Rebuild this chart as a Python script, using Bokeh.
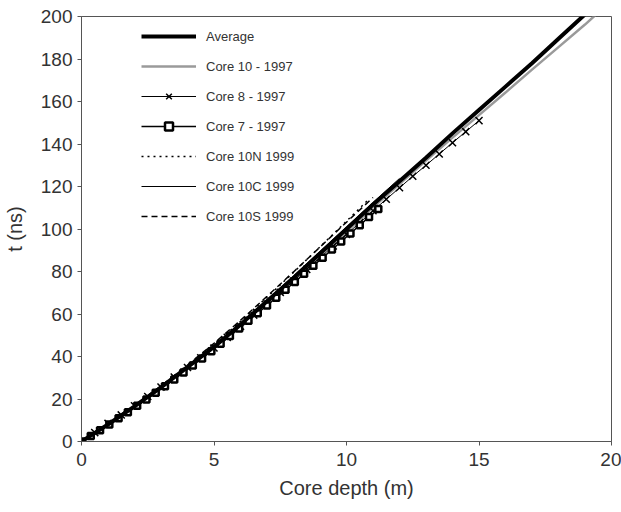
from bokeh.plotting import figure
from bokeh.models import Legend, LegendItem, FixedTicker
from bokeh.embed import file_html
from bokeh.resources import INLINE

# ---- data ----
avg_d = [0, 1, 2, 3, 4, 5, 6, 7, 8, 9, 10, 11, 12, 13, 14, 15, 16, 17, 18, 19, 19.3]
avg_t = [0, 8, 16.5, 25.5, 35, 44.5, 55, 66, 77, 88.5, 100, 111.5, 122.5, 133.5, 145, 156, 167, 178, 189.5, 201, 204.5]

c10_d = [0, 1, 2, 3, 4, 5, 6, 7, 8, 9, 10, 11, 12, 13, 14, 15, 16, 17, 18, 19, 19.6]
c10_t = [0, 7.8, 16.2, 25.2, 34.6, 44.2, 54.6, 65.4, 76.4, 87.6, 98.8, 110.2, 121.2, 132.2, 143.0, 153.6, 164.2, 175.0, 185.6, 196.2, 203.0]

c8_d = [0, 0.5, 1, 1.5, 2, 2.5, 3, 3.5, 4, 4.5, 5, 5.5, 6, 6.5, 7, 7.5, 8, 8.5, 9, 9.5,
        10, 10.5, 11, 11.5, 12, 12.5, 13, 13.5, 14, 14.5, 15]
c8_t = [0, 4.2, 8.5, 12.5, 16.8, 21.2, 25.6, 30.3, 34.8, 39.4, 44.0, 49.0, 54.2, 59.5, 64.8, 70.2,
        75.5, 81.0, 86.5, 92.0, 97.5, 103.0, 108.6, 114.0, 119.4, 124.8, 130.0, 135.3, 140.6, 145.8, 151.0]

c7_d = [0, 0.35, 0.7, 1.05, 1.4, 1.75, 2.1, 2.45, 2.8, 3.15, 3.5, 3.85, 4.2, 4.55, 4.9, 5.25, 5.6,
        5.95, 6.3, 6.65, 7.0, 7.35, 7.7, 8.05, 8.4, 8.75, 9.1, 9.45, 9.8, 10.15, 10.5, 10.85, 11.2]
c7_t = [0, 2.6, 5.3, 8.0, 10.9, 13.8, 16.8, 19.8, 22.9, 26.0, 29.2, 32.5, 35.8, 39.1, 42.5, 46.0, 49.6,
        53.2, 56.8, 60.4, 64.0, 67.7, 71.4, 75.1, 78.9, 82.7, 86.5, 90.3, 94.1, 97.9, 101.8, 105.6, 109.4]

n10_d = [0, 0.5, 1, 1.5, 2, 2.5, 3, 3.5, 4, 4.5, 5, 5.5, 6, 6.5, 7, 7.5, 8, 8.5, 9, 9.5, 10, 10.5, 10.8]
n10_t = [0, 4.1, 8.2, 12.4, 16.8, 21.4, 26.0, 30.8, 35.7, 40.7, 45.6, 51.0, 56.5, 62.2, 67.9, 73.7,
         79.6, 85.6, 91.6, 97.6, 103.7, 109.8, 113.5]

c10c_d = [0, 1, 2, 3, 4, 5, 6, 7, 8, 9, 10, 11, 12]
c10c_t = [0, 8.1, 16.6, 25.8, 35.4, 45.2, 55.8, 66.8, 78.0, 89.5, 101.0, 112.5, 123.8]

s10_d = [0, 1, 2, 3, 4, 5, 6, 7, 8, 9, 10, 11]
s10_t = [0, 8.2, 16.8, 26.2, 36.0, 46.2, 57.0, 68.3, 79.8, 91.5, 103.2, 114.8]

x_ticks = [0, 5, 10, 15, 20]
y_ticks = [0, 20, 40, 60, 80, 100, 120, 140, 160, 180, 200]

FONT = "Liberation Sans"
TXT = "#333333"

p = figure(width=621, height=512, x_range=(0, 20), y_range=(0, 200),
           output_backend="svg", toolbar_location=None,
           min_border_left=80, min_border_right=10, min_border_top=16, min_border_bottom=71)

p.xgrid.visible = False
p.ygrid.visible = False
p.outline_line_color = "#555555"
p.outline_line_width = 1
p.background_fill_color = "white"
p.border_fill_color = "white"

for ax in (p.xaxis[0], p.yaxis[0]):
    ax.axis_line_color = "#555555"
    ax.major_tick_line_color = "#555555"
    ax.major_tick_out = 4
    ax.major_tick_in = 0
    ax.minor_tick_line_color = None
    ax.major_label_text_font = FONT
    ax.major_label_text_font_size = "19px"
    ax.major_label_text_color = TXT
    ax.axis_label_text_font = FONT
    ax.axis_label_text_font_size = "20px"
    ax.axis_label_text_font_style = "normal"
    ax.axis_label_text_color = TXT

p.xaxis.ticker = FixedTicker(ticks=x_ticks)
p.yaxis.ticker = FixedTicker(ticks=y_ticks)
p.xaxis.axis_label = "Core depth (m)"
p.yaxis.axis_label = "t (ns)"
p.xaxis.major_label_standoff = 7
p.xaxis.axis_label_standoff = 8
p.yaxis.major_label_standoff = 5
p.yaxis.axis_label_standoff = 12

# ---- series ----
r_c10 = p.line(c10_d, c10_t, line_color="#9a9a9a", line_width=2.5)
r_c8l = p.line(c8_d, c8_t, line_color="black", line_width=1)
r_c8m = p.scatter(c8_d, c8_t, marker="x", size=10, line_color="black", line_width=1.5)
r_c7l = p.line(c7_d, c7_t, line_color="black", line_width=1.5)
r_c7m = p.scatter(c7_d, c7_t, marker="square", size=6, line_color="black", line_width=2.5, fill_color="white")
r_n10 = p.line(n10_d, n10_t, line_color="black", line_width=1.5, line_dash="2 4")
r_c10c = p.line(c10c_d, c10c_t, line_color="black", line_width=1)
r_s10 = p.line(s10_d, s10_t, line_color="black", line_width=1.5, line_dash="6 4")
r_avg = p.line(avg_d, avg_t, line_color="black", line_width=4)

legend = Legend(items=[
    LegendItem(label="Average", renderers=[r_avg]),
    LegendItem(label="Core 10 - 1997", renderers=[r_c10]),
    LegendItem(label="Core 8 - 1997", renderers=[r_c8l, r_c8m]),
    LegendItem(label="Core 7 - 1997", renderers=[r_c7l, r_c7m]),
    LegendItem(label="Core 10N 1999", renderers=[r_n10]),
    LegendItem(label="Core 10C 1999", renderers=[r_c10c]),
    LegendItem(label="Core 10S 1999", renderers=[r_s10]),
], location=(60, 215))
legend.border_line_color = None
legend.background_fill_alpha = 0
legend.padding = 0
legend.margin = 0
legend.spacing = 10
legend.glyph_width = 55
legend.glyph_height = 20
legend.label_height = 20
legend.label_standoff = 10
legend.label_text_font = FONT
legend.label_text_font_size = "13px"
legend.label_text_color = TXT
p.add_layout(legend, "center")

open("out.html", "w").write(file_html(p, INLINE))
